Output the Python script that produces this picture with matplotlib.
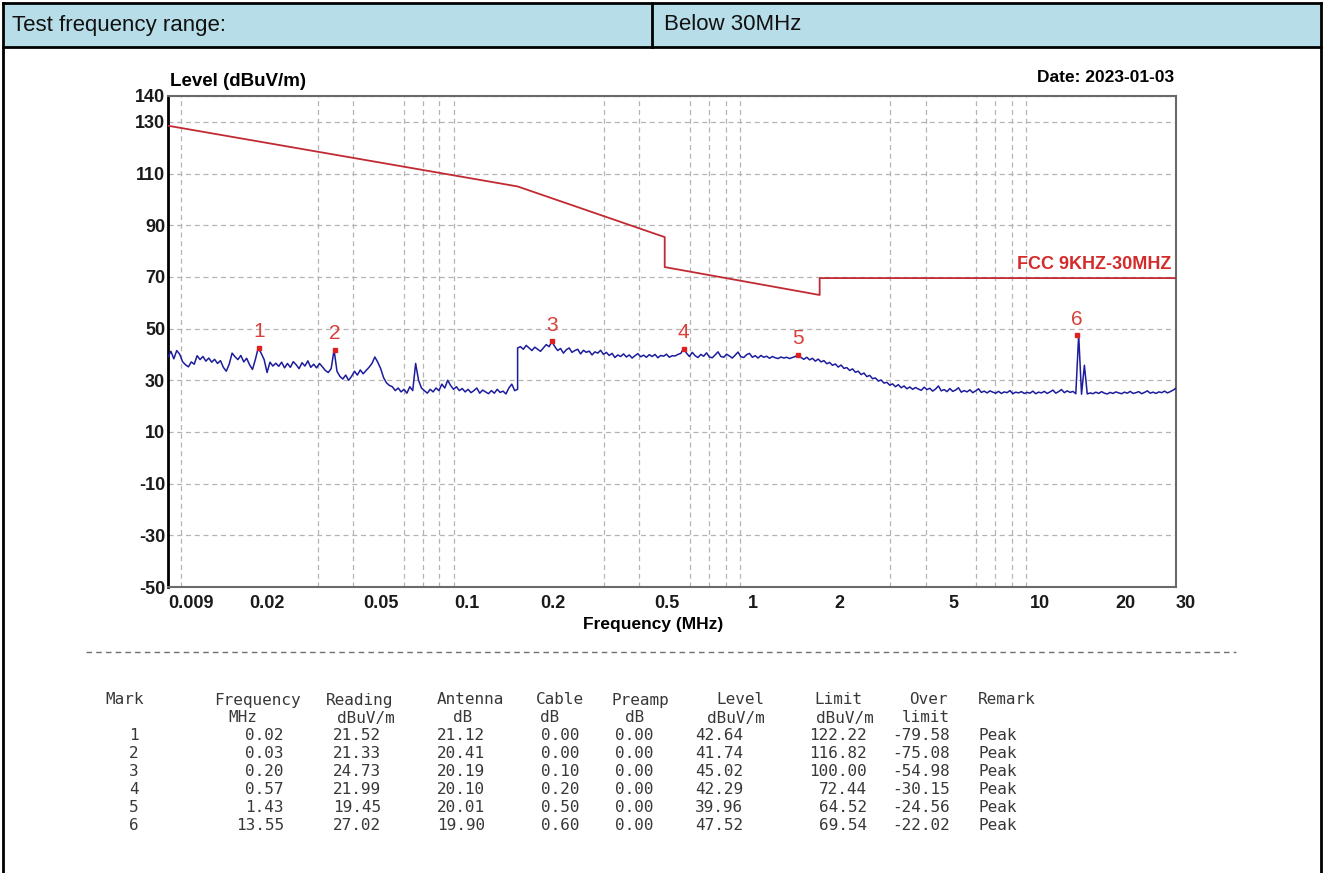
import numpy as np
import matplotlib.pyplot as plt
from matplotlib.lines import Line2D
from matplotlib.patches import Rectangle

# sweep below 150 kHz (MHz) and its levels (dBuV/m)
band_a_range = [0.009, 0.15]
band_a_level = [39.0, 41.2, 38.3, 41.5, 40.1, 37.2,
                36.0, 35.2, 37.1, 36.2,
                39.5, 38.0, 39.2, 37.4, 38.6, 37.0, 38.1, 36.5, 37.6, 35.0,
                33.5, 36.2, 40.5, 39.1, 38.0, 39.6, 37.1, 38.5, 36.0,
                34.2, 38.1, 42.64,
                40.4, 38.0, 33.0, 37.0, 35.5,
                36.6, 35.4, 37.0, 34.8, 36.5, 35.0, 37.2, 36.0, 34.5, 36.8, 35.5, 37.5, 35.0, 36.2, 34.8, 36.5, 35.2,
                33.8, 33.0, 34.5, 41.74,
                33.5, 31.5, 30.5, 32.0, 30.0,
                31.5, 33.5, 32.0, 34.0, 32.5, 33.8, 35.0, 36.5,
                39.0, 37.0, 34.5,
                31.0, 29.0, 28.0, 27.5, 26.0, 27.0, 25.5, 26.5, 25.0, 27.5, 26.0,
                36.5,
                30.0, 27.0, 26.0, 25.0, 26.5, 25.5, 27.0, 26.0, 28.5, 27.0, 30.0, 28.0, 26.5, 27.5, 26.0, 26.8,
                25.5, 26.5, 25.2, 26.0, 27.0, 25.0, 26.2, 25.5, 24.8, 26.0, 25.0, 26.5, 25.3, 25.8, 24.7, 27.0,
                28.5, 26.0, 26.5]

# sweep 150 kHz - 30 MHz
band_b_range = [0.15, 30]
band_b_level = [42.5, 43.0, 42.0, 43.5, 42.5, 41.5, 42.8, 42.0, 41.2, 42.5, 43.8, 43.0,
                45.02,
                43.0, 41.5, 42.3, 40.5, 41.8, 42.5, 40.8, 41.5, 42.0, 40.2, 41.6, 40.8, 41.3, 39.8, 41.0, 40.5,
                41.6, 40.0, 40.8, 39.6,
                40.4, 38.8, 39.8, 39.2, 40.2, 39.0, 39.8, 38.6, 39.5, 40.3, 39.1, 39.7, 38.9, 39.9, 39.2, 40.0,
                38.7, 39.6, 39.3, 40.1, 38.9, 39.5, 39.4, 40.0, 40.4,
                42.29,
                40.5, 39.2, 40.8, 39.5, 38.8, 40.0, 39.3, 40.6, 39.0, 38.7, 39.8, 41.0, 39.2, 38.9, 40.1, 39.4,
                38.6, 39.7, 40.9, 39.1, 38.8, 39.9, 40.4, 38.9, 39.5, 38.6, 39.6, 38.9, 39.3, 38.5, 39.2, 38.7,
                38.4, 39.0, 38.6, 38.9, 38.4, 38.8, 39.2,
                39.96,
                38.8, 38.1, 38.9, 37.9, 38.5, 37.4, 38.2,
                37.1, 37.6, 36.4, 36.9, 35.8, 36.3, 35.1, 35.9, 34.6, 34.9, 33.8, 34.4, 33.1, 33.5, 32.2, 32.8,
                31.4, 31.9, 30.6, 30.9, 29.7, 30.1, 28.9, 29.2, 28.1,
                28.6, 27.5, 28.3, 27.1, 27.8, 26.7, 27.4, 26.5, 27.2, 26.6,
                26.1, 27.3, 26.4, 26.9, 25.8, 26.6, 27.8, 25.9, 26.4, 25.6, 26.8, 25.7, 26.2, 27.1, 25.4, 26.0,
                25.5, 26.3, 25.2, 25.9, 26.7, 25.3, 25.8, 25.1, 25.9, 25.4, 25.0, 25.7, 24.9, 25.5, 25.2, 26.0,
                24.8, 25.4, 25.1, 25.6, 24.9, 25.3, 25.0, 25.8, 24.8, 25.4, 25.1, 25.7, 24.9, 25.5, 26.2, 25.0,
                25.6, 26.4, 25.2, 25.9, 25.3, 25.7, 24.8,
                47.52, 24.6, 35.8, 24.7,
                25.1, 24.8, 25.4, 24.9, 25.6, 25.0, 24.7, 25.3, 24.9, 25.5, 25.1, 24.8, 25.4, 25.0, 25.7, 24.9,
                25.2, 25.6, 24.8, 25.3, 25.9, 25.0, 25.4, 24.9, 25.5, 25.2, 25.8, 25.1, 25.6, 26.2, 26.9]

# FCC 15.209 limit breakpoints
limit_freq = [0.009, 0.15, 0.49, 0.49, 1.705, 1.705, 30]
limit_level = [128.5, 105.0, 85.4, 73.8, 63.0, 69.54, 69.54]

# marker table
mark_no = [1, 2, 3, 4, 5, 6]
mark_freq = [0.0187, 0.0345, 0.198, 0.57, 1.43, 13.55]
reading = [21.52, 21.33, 24.73, 21.99, 19.45, 27.02]
antenna = [21.12, 20.41, 20.19, 20.10, 20.01, 19.90]
cable = [0.00, 0.00, 0.10, 0.20, 0.50, 0.60]
preamp = [0.00, 0.00, 0.00, 0.00, 0.00, 0.00]
level = [42.64, 41.74, 45.02, 42.29, 39.96, 47.52]
limit = [122.22, 116.82, 100.00, 72.44, 64.52, 69.54]
over = [-79.58, -75.08, -54.98, -30.15, -24.56, -22.02]
remark = ['Peak'] * 6

xtick_vals = [0.009, 0.02, 0.05, 0.1, 0.2, 0.5, 1, 2, 5, 10, 20, 30]
xtick_text = ['0.009', '0.02', '0.05', '0.1', '0.2', '0.5', '1', '2', '5', '10', '20', '30']
xgrid_vals = [0.01, 0.02, 0.03, 0.04, 0.05, 0.06, 0.07, 0.08, 0.09,
              0.1, 0.2, 0.3, 0.4, 0.5, 0.6, 0.7, 0.8, 0.9,
              1, 2, 3, 4, 5, 6, 7, 8, 9, 10, 20]
ytick_vals = [140, 130, 110, 90, 70, 50, 30, 10, -10, -30, -50]

W, H = 1324, 873
plt.rcParams['font.family'] = ['Liberation Sans', 'DejaVu Sans']


def fx(px):
    return px / W


def fy(py):
    return 1 - py / H


fig = plt.figure(figsize=(W / 100, H / 100), dpi=100)
fig.patch.set_facecolor('white')

# header row of the report table
fig.patches.append(Rectangle((fx(3), fy(47)), fx(1318), 44 / H, transform=fig.transFigure,
                             facecolor='#b7dde8', edgecolor='none', zorder=0))
for x0, y0, x1, y1 in [(3, 3, 1321, 3), (3, 47, 1321, 47), (3, 3, 3, 873),
                       (1321, 3, 1321, 873), (652, 3, 652, 47)]:
    fig.add_artist(Line2D([fx(x0), fx(x1)], [fy(y0), fy(y1)], color='black', lw=2,
                          transform=fig.transFigure))
fig.text(fx(12), fy(25), 'Test frequency range:', fontsize=16, va='center', color='#111111')
fig.text(fx(664), fy(25), 'Below 30MHz', fontsize=16, va='center', color='#111111')

# chart
ax = fig.add_axes([fx(168), fy(587), fx(1176) - fx(168), (587 - 96) / H])
ax.set_xscale('log')
ax.set_xlim(0.009, 30)
ax.set_ylim(-50, 140)

freq_a = np.geomspace(band_a_range[0], band_a_range[1], len(band_a_level))
freq_b = np.geomspace(band_b_range[0], band_b_range[1], len(band_b_level))
trace_f = np.concatenate([freq_a, freq_b])
trace_v = np.concatenate([band_a_level, band_b_level])

ax.plot(limit_freq, limit_level, color='#c22a33', lw=1.3, zorder=3)
ax.plot(trace_f, trace_v, color='#1c1c9e', lw=1.1, zorder=4)
ax.plot(mark_freq, level, ls='none', marker='s', ms=3.5, color='#e02020', zorder=5)
for n, f, v in zip(mark_no, mark_freq, level):
    ax.text(f, v + 2.5, str(n), ha='center', va='bottom', fontsize=15, color='#d9403a', zorder=6)

ax.text(29, 71.5, 'FCC 9KHZ-30MHZ', ha='right', va='bottom', fontsize=13, fontweight='bold',
        color='#d42a2a')

ax.set_xticks(xtick_vals)
ax.set_xticklabels(xtick_text)
ax.set_xticks(xgrid_vals, minor=True)
ax.xaxis.set_minor_formatter(plt.NullFormatter())
ax.set_yticks(ytick_vals)
ax.set_yticklabels([str(v) for v in ytick_vals])
ax.tick_params(which='both', length=0)
ax.tick_params(axis='x', pad=6)
ax.tick_params(axis='y', pad=2)
for lab in ax.get_xticklabels() + ax.get_yticklabels():
    lab.set_fontweight('bold')
    lab.set_fontsize(13)
    lab.set_color('#1a1a1a')
xl = ax.get_xticklabels()
xl[0].set_ha('left')
xl[-1].set_ha('left')

ax.grid(which='minor', axis='x', color='#b4b4b4', lw=0.9, ls=(0, (4, 3)))
ax.grid(which='major', axis='x', visible=False)
ax.grid(which='major', axis='y', color='#b4b4b4', lw=0.9, ls=(0, (4, 3)))
ax.set_axisbelow(True)
for side in ['top', 'right', 'bottom']:
    ax.spines[side].set_color('#6a6a6a')
    ax.spines[side].set_linewidth(1.5)
ax.spines['left'].set_color('black')
ax.spines['left'].set_linewidth(2)

fig.text(fx(170), fy(82), 'Level (dBuV/m)', fontsize=13.5, fontweight='bold', va='center')
fig.text(fx(1174), fy(77), 'Date: 2023-01-03', fontsize=12.5, fontweight='bold', va='center', ha='right')
fig.text(fx(653), fy(624), 'Frequency (MHz)', fontsize=12.5, fontweight='bold', va='center', ha='center')

# marker table under the chart
fig.add_artist(Line2D([fx(86), fx(1236)], [fy(652), fy(652)], color='#707070', lw=1,
                      ls=(0, (4, 3)), transform=fig.transFigure))
mono = dict(family='DejaVu Sans Mono', fontsize=11.5, color='#383838', va='center')
row0, dy = 700, 18
cols = [
    ('Mark', 125, 'center', '', 125, 'center', [str(n) for n in mark_no], 134, 'center'),
    ('Frequency', 257, 'center', 'MHz', 243, 'center', ['%.2f' % v for v in mark_freq], 284, 'right'),
    ('Reading', 360, 'center', 'dBuV/m', 395, 'right', ['%.2f' % v for v in reading], 333, 'left'),
    ('Antenna', 470, 'center', 'dB', 463, 'center', ['%.2f' % v for v in antenna], 437, 'left'),
    ('Cable', 560, 'center', 'dB', 550, 'center', ['%.2f' % v for v in cable], 541, 'left'),
    ('Preamp', 640, 'center', 'dB', 635, 'center', ['%.2f' % v for v in preamp], 615, 'left'),
    ('Level', 765, 'right', 'dBuV/m', 765, 'right', ['%.2f' % v for v in level], 695, 'left'),
    ('Limit', 862, 'right', 'dBuV/m', 816, 'left', ['%.2f' % v for v in limit], 867, 'right'),
    ('Over', 948, 'right', 'limit', 950, 'right', ['%.2f' % v for v in over], 950, 'right'),
    ('Remark', 978, 'left', '', 978, 'left', remark, 978, 'left'),
]
for head, hx, hha, unit, ux, uha, vals, vx, vha in cols:
    fig.text(fx(hx), fy(row0), head, ha=hha, **mono)
    if unit:
        fig.text(fx(ux), fy(row0 + dy), unit, ha=uha, **mono)
    for i, s in enumerate(vals):
        fig.text(fx(vx), fy(row0 + dy * (i + 2)), s, ha=vha, **mono)

fig.savefig('out.png', dpi=100)
